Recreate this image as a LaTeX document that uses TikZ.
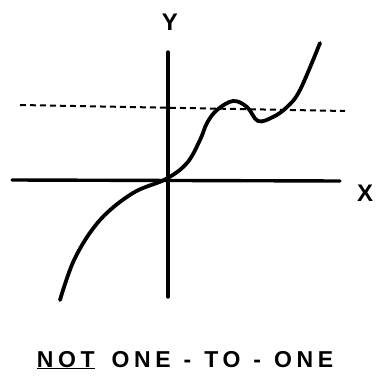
\documentclass[tikz,border=0pt]{standalone}
\usepackage{fontspec}
\setsansfont{Liberation Sans}
\begin{document}
\begin{tikzpicture}[x=1pt,y=-1pt,
  axis/.style={line width=3.4pt,line cap=round},
  curve/.style={line width=3.8pt,line cap=round,line join=round},
  level/.style={line width=2pt,dash pattern=on 6pt off 4pt},
  lbl/.style={font=\sffamily\bfseries\fontsize{24}{24}\selectfont,inner sep=0pt}]
\useasboundingbox (0,0) rectangle (376,377);
\coordinate (ytop) at (168,52);
\coordinate (ybot) at (168,297);
\coordinate (xl) at (12,180);
\coordinate (xr) at (340,181);
\coordinate (dl) at (20,105);
\coordinate (dr) at (345,111);
\draw[axis] (ytop) -- (ybot);
\draw[axis] (xl) -- (xr);
\draw[level] (dl) -- (dr);
\draw[curve] plot[smooth,tension=0.6] coordinates {(60,300) (75,258) (100,220) (133,193) (166,179) (187,163) (200,140) (207,123) (217,110) (233,101) (247,107) (258,121) (273,117) (287,107) (300,90) (320,43)};
\node[lbl] (ylab) at (170,22) {Y};
\node[lbl] (xlab) at (365,193) {X};
\node[lbl,anchor=base,font=\sffamily\bfseries\fontsize{23}{23}\selectfont\addfontfeature{LetterSpace=20}] (cap) at (185,367) {\underline{NOT}\hspace{6pt} ONE\hspace{2pt} - \hspace{2pt}TO\hspace{2pt} - \hspace{2pt}ONE};
\end{tikzpicture}
\end{document}
